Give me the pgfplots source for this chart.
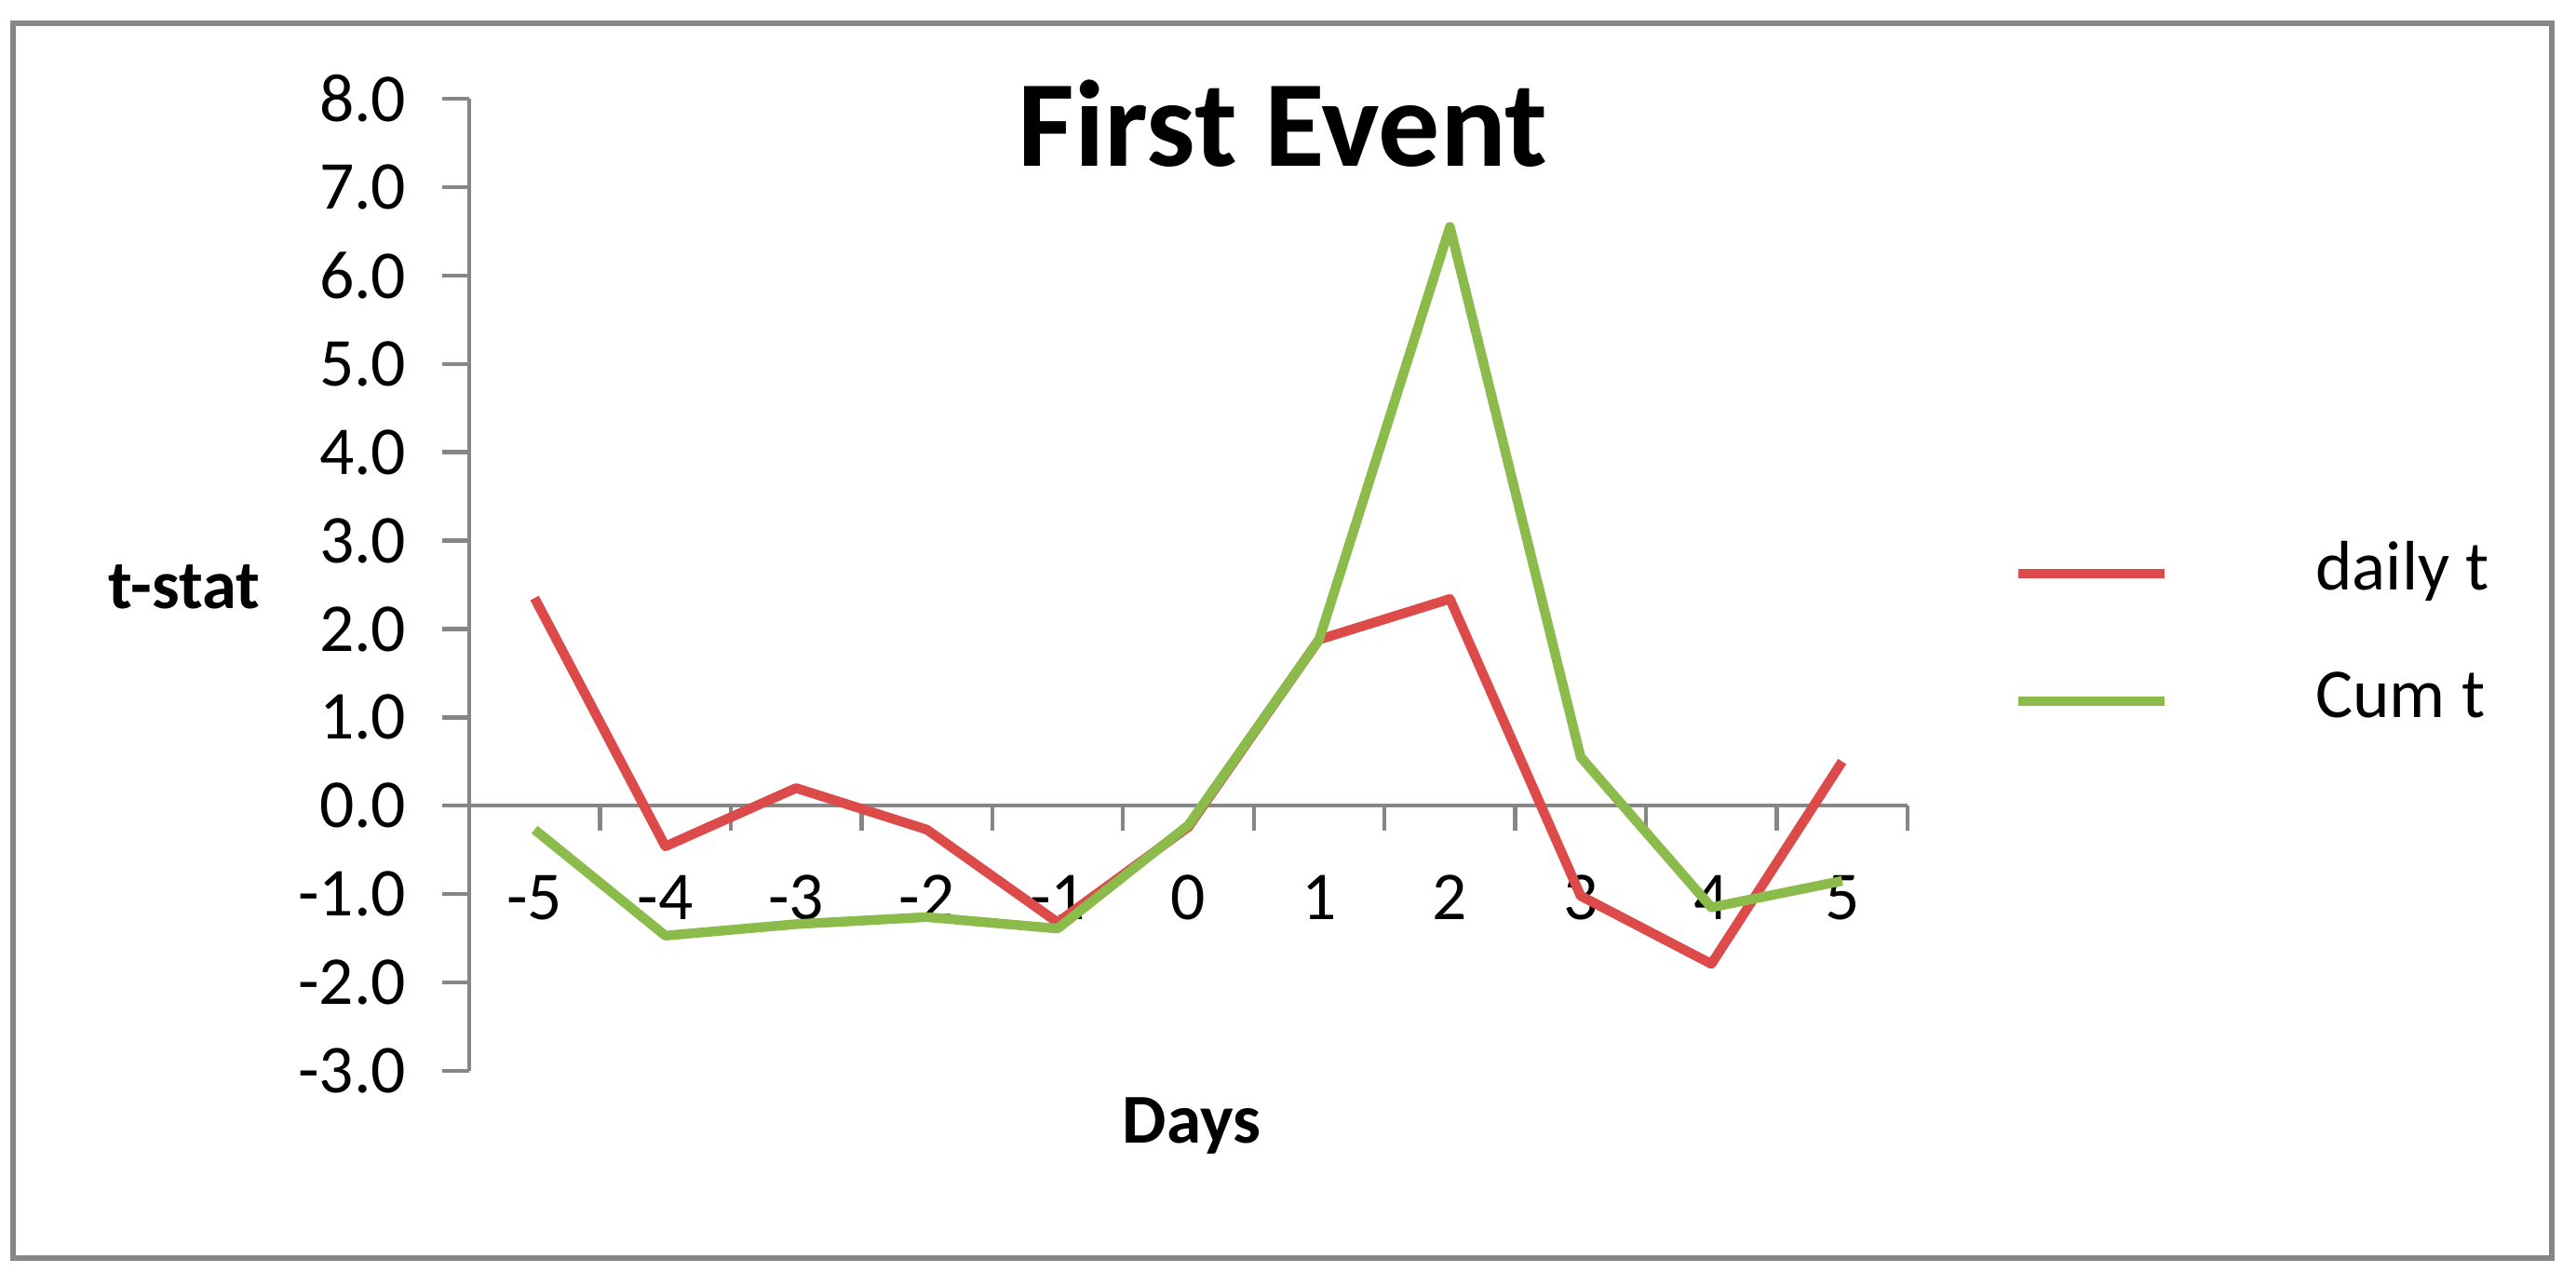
\documentclass[border=0pt]{standalone}
\usepackage{fontspec}
\setmainfont{Carlito}
\usepackage{pgfplots}
\pgfplotsset{compat=1.18}
\definecolor{axgray}{RGB}{134,134,134}
\definecolor{dred}{RGB}{220,74,74}
\definecolor{cgreen}{RGB}{139,187,75}
\pgfplotstableread{
day val
-5 2.35
-4 -0.46
-3 0.20
-2 -0.27
-1 -1.32
0 -0.24
1 1.88
2 2.34
3 -1.02
4 -1.79
5 0.50
}\dailyt
\pgfplotstableread{
day val
-5 -0.27
-4 -1.47
-3 -1.34
-2 -1.26
-1 -1.39
0 -0.22
1 1.88
2 6.55
3 0.55
4 -1.15
5 -0.85
}\cumt
\begin{document}
\begin{tikzpicture}
\useasboundingbox (0,0) rectangle (691.75pt,345.25pt);
\draw[axgray, line width=1.3pt] (3.5pt,7.5pt) rectangle (685.25pt,339pt);
\begin{axis}[
  at={(126pt,57.75pt)}, anchor=south west,
  scale only axis, width=386.25pt, height=261pt,
  xmin=-5.5, xmax=5.5, ymin=-3, ymax=8,
  axis x line*=middle, axis y line*=left,
  axis line style={-, draw=axgray, line width=1.1pt},
  tick align=outside,
  ytick={-3,-2,...,8},
  xtick={-5,...,5},
  xticklabels={-5,-4,-3,-2,-1,0,1,2,3,4,5},
  minor xtick={-5.5,-4.5,...,5.5},
  major tick length=7.25pt,
  minor tick length=6.75pt,
  every major x tick/.style={draw=none},
  every minor x tick/.style={draw=axgray, line width=1.1pt},
  every major y tick/.style={draw=axgray, line width=1.1pt},
  /pgf/number format/assume math mode=true,
  yticklabel style={/pgf/number format/.cd, fixed, fixed zerofill, precision=1, /tikz/.cd,
     anchor=east, inner sep=0pt, xshift=-9.5pt},
  xticklabel style={anchor=north, inner sep=0pt, yshift=-11.25pt},
  tick label style={font=\fontsize{18.4}{22}\selectfont, text=black},
  title={First Event},
  title style={at={(axis description cs:0.5657,0.9071)}, anchor=base, font=\bfseries\fontsize{33}{40}\selectfont},
  xlabel={Days}, ylabel={t-stat},
  every axis x label/.style={at={(axis description cs:0.5023,-0.0747)}, anchor=base, font=\bfseries\fontsize{18.8}{22}\selectfont},
  every axis y label/.style={at={(axis description cs:-0.198,0.4751)}, anchor=base, font=\bfseries\fontsize{18.6}{22}\selectfont},
  legend style={at={(axis description cs:1.0738,0.5364)}, anchor=north west, draw=none, fill=none,
     inner sep=0pt, outer sep=0pt, row sep=21.25pt, column sep=39.25pt,
     font=\fontsize{18.8}{22}\selectfont,
     nodes={inner sep=0pt, text height=11pt, text depth=2pt}},
  legend cell align=left,
  legend image code/.code={\draw[#1] (0pt,0pt) -- (39.25pt,0pt);},
  clip=false,
]
\addplot[dred, line width=2.6pt, line join=round] table[x=day, y=val] {\dailyt};
\addlegendentry{daily t}
\addplot[cgreen, line width=2.6pt, line join=round] table[x=day, y=val] {\cumt};
\addlegendentry{Cum t}
\end{axis}
\end{tikzpicture}
\end{document}
